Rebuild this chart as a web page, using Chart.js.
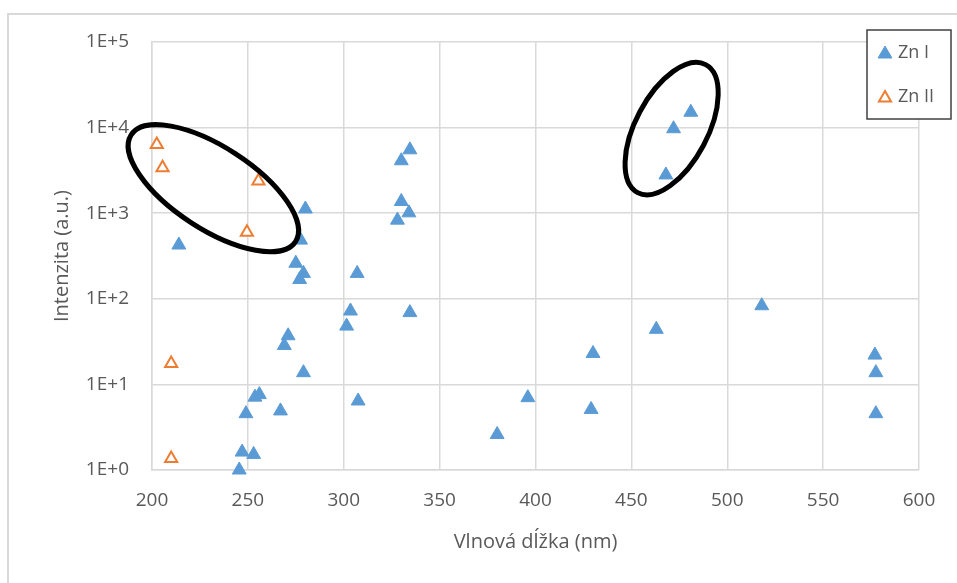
<!DOCTYPE html>
<html>
<head>
<meta charset="utf-8">
<script src="https://cdn.jsdelivr.net/npm/chart.js@4/dist/chart.umd.min.js"></script>
<style>
  html, body { margin: 0; padding: 0; background: #ffffff; }
  #wrap { width: 957px; height: 583px; position: relative; }
</style>
</head>
<body>
<div id="wrap"><canvas id="c" width="957" height="583"></canvas></div>
<script>
// ---- data ----
const seriesNames = ['Zn I', 'Zn II'];

const znI_x = [396, 380, 430, 429, 463, 518, 577, 577.5, 577.5,
               481, 472, 468,
               334.5, 330, 330, 334, 328,
               280, 277.5, 275, 279, 277, 307,
               303.5, 301.5, 334.5, 271, 269, 279, 307.5,
               214, 256, 253.7, 249, 267, 247, 253, 245.5];
const znI_y = [7.0, 2.6, 23, 5.1, 44, 83, 22, 13.7, 4.55,
               15100, 9700, 2800,
               5500, 4100, 1370, 1010, 830,
               1120, 485, 260, 198, 168, 198,
               72, 48, 69, 37, 28.5, 13.7, 6.4,
               425, 7.6, 7.1, 4.55, 4.9, 1.62, 1.52, 1.0];

const znII_x = [202.5, 205.5, 255.5, 249.5, 210, 210];
const znII_y = [6350, 3400, 2370, 600, 17.5, 1.36];

const xTicks = [200, 250, 300, 350, 400, 450, 500, 550, 600];
const yTicks = [1, 10, 100, 1000, 10000, 100000];
const yTickLabels = ['1E+0', '1E+1', '1E+2', '1E+3', '1E+4', '1E+5'];

const xTitle = 'Vlnová dĺžka (nm)';
const yTitle = 'Intenzita (a.u.)';

// ---- annotation ellipses (centre in data units, radii in px) ----
const ellipses = [
  { cx: 232, cy: 1960, rx: 98, ry: 41, angleDeg: 33 },
  { cx: 471, cy: 9730, rx: 72.5, ry: 36, angleDeg: -62 }
];

const toPoints = (xs, ys) => xs.map((x, i) => ({ x: x, y: ys[i] }));

const textColor = '#595959';
const gridColor = '#d9d9d9';
const fontFamily = "'Open Sans', 'Liberation Sans', sans-serif";

const frameAndAnnotations = {
  id: 'frameAndAnnotations',
  beforeDraw(chart) {
    const ctx = chart.ctx;
    ctx.save();
    ctx.fillStyle = '#ffffff';
    ctx.fillRect(0, 0, chart.width, chart.height);
    ctx.strokeStyle = gridColor;
    ctx.lineWidth = 2;
    ctx.strokeRect(8, 14, chart.width + 20, chart.height + 20);
    ctx.restore();
  },
  afterDatasetsDraw(chart) {
    const ctx = chart.ctx;
    const xs = chart.scales.x, ys = chart.scales.y;
    ctx.save();
    ctx.strokeStyle = '#000000';
    ctx.lineWidth = 5;
    ellipses.forEach(e => {
      const px = xs.getPixelForValue(e.cx);
      const py = ys.getPixelForValue(e.cy);
      ctx.beginPath();
      ctx.ellipse(px, py, e.rx, e.ry, e.angleDeg * Math.PI / 180, 0, Math.PI * 2);
      ctx.stroke();
    });
    ctx.restore();
  },
  afterDraw(chart) {
    // legend box
    const ctx = chart.ctx;
    ctx.save();
    const bx = 867, by = 30, bw = 84, bh = 89;
    ctx.fillStyle = '#ffffff';
    ctx.fillRect(bx, by, bw, bh);
    ctx.strokeStyle = '#404040';
    ctx.lineWidth = 1.5;
    ctx.strokeRect(bx, by, bw, bh);
    ctx.font = "18px " + fontFamily;
    ctx.textBaseline = 'middle';
    ctx.textAlign = 'left';
    chart.data.datasets.forEach((ds, i) => {
      const y = 53 + i * 44;
      const r = ds.pointRadius;
      ctx.fillStyle = ds.backgroundColor;
      ctx.strokeStyle = ds.borderColor;
      ctx.lineWidth = ds.borderWidth;
      ctx.beginPath();
      let rad = 0;
      ctx.moveTo(885 + Math.sin(rad) * r, y + 1 - Math.cos(rad) * r);
      rad += 2 * Math.PI / 3;
      ctx.lineTo(885 + Math.sin(rad) * r, y + 1 - Math.cos(rad) * r);
      rad += 2 * Math.PI / 3;
      ctx.lineTo(885 + Math.sin(rad) * r, y + 1 - Math.cos(rad) * r);
      ctx.closePath();
      ctx.fill();
      ctx.stroke();
      ctx.fillStyle = textColor;
      ctx.fillText(ds.label, 898, y);
    });
    ctx.restore();
  }
};

new Chart(document.getElementById('c'), {
  type: 'scatter',
  data: {
    datasets: [
      {
        label: seriesNames[0],
        data: toPoints(znI_x, znI_y),
        pointStyle: 'triangle',
        pointRadius: 8,
        pointHoverRadius: 8,
        backgroundColor: '#5b9bd5',
        borderColor: '#5b9bd5',
        borderWidth: 1,
        clip: false
      },
      {
        label: seriesNames[1],
        data: toPoints(znII_x, znII_y),
        pointStyle: 'triangle',
        pointRadius: 7,
        pointHoverRadius: 7,
        backgroundColor: '#ffffff',
        borderColor: '#ed7d31',
        borderWidth: 2,
        clip: false
      }
    ]
  },
  options: {
    responsive: false,
    animation: false,
    events: [],
    layout: { padding: { left: 0, right: 38, top: 42, bottom: 0 } },
    plugins: {
      legend: { display: false },
      tooltip: { enabled: false }
    },
    scales: {
      x: {
        type: 'linear',
        min: xTicks[0],
        max: xTicks[xTicks.length - 1],
        afterBuildTicks: (s) => { s.ticks = xTicks.map(v => ({ value: v })); },
        afterFit: (s) => { s.height = 113; },
        grid: { color: gridColor, lineWidth: 1.5, drawTicks: false },
        border: { color: gridColor, width: 1.5 },
        ticks: {
          color: textColor,
          font: { family: fontFamily, size: 19 },
          padding: 19,
          maxRotation: 0,
          callback: (v) => String(v)
        },
        title: {
          display: true,
          text: xTitle,
          color: textColor,
          font: { family: fontFamily, size: 20 },
          padding: { top: 0, bottom: 29 }
        }
      },
      y: {
        type: 'logarithmic',
        min: yTicks[0],
        max: yTicks[yTicks.length - 1],
        afterBuildTicks: (s) => { s.ticks = yTicks.map(v => ({ value: v })); },
        afterFit: (s) => { s.width = 152; },
        grid: { color: gridColor, lineWidth: 1.5, drawTicks: false },
        border: { color: gridColor, width: 1.5 },
        ticks: {
          color: textColor,
          font: { family: fontFamily, size: 19 },
          padding: 23,
          callback: (v) => { const i = yTicks.indexOf(v); return i >= 0 ? yTickLabels[i] : ''; }
        },
        title: {
          display: true,
          text: yTitle,
          color: textColor,
          font: { family: fontFamily, size: 20 },
          padding: { top: 50, bottom: 0 }
        }
      }
    }
  },
  plugins: [frameAndAnnotations]
});
</script>
</body>
</html>
